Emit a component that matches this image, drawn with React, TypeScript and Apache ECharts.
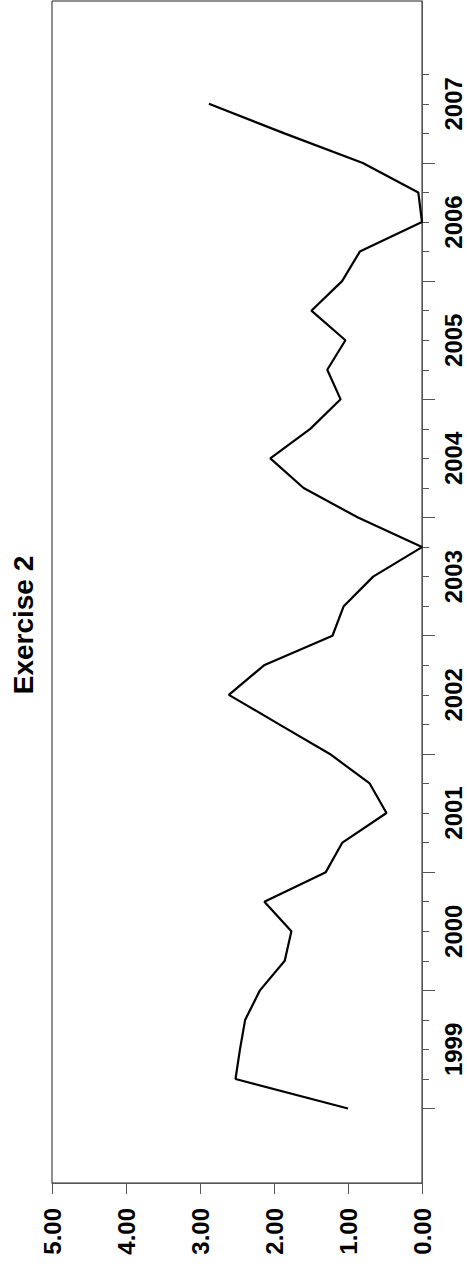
import React, { useEffect, useRef } from "react";
import * as echarts from "echarts";

const titleText = "Exercise 2";
const periods = [
  1999.0, 1999.25, 1999.5, 1999.75,
  2000.0, 2000.25, 2000.5, 2000.75,
  2001.0, 2001.25, 2001.5, 2001.75,
  2002.0, 2002.25, 2002.5, 2002.75,
  2003.0, 2003.25, 2003.5, 2003.75,
  2004.0, 2004.25, 2004.5, 2004.75,
  2005.0, 2005.25, 2005.5, 2005.75,
  2006.0, 2006.25, 2006.5, 2006.75,
  2007.0, 2007.25, 2007.5,
];
const values = [
  1.0, 2.52, 2.46, 2.39,
  2.19, 1.855, 1.765, 2.13,
  1.3, 1.076, 0.48, 0.707,
  1.245, 1.93, 2.61, 2.135,
  1.21, 1.058, 0.66, 0.0,
  0.865, 1.6, 2.05, 1.51,
  1.1, 1.28, 1.035, 1.495,
  1.08, 0.84, 0.0, 0.05,
  0.8, 1.86, 2.88,
];
const yearTicks = [1999, 2000, 2001, 2002, 2003, 2004, 2005, 2006, 2007];
const quarterTicks = [
  1999.0, 1999.25, 1999.5, 1999.75, 2000.0, 2000.25, 2000.5, 2000.75,
  2001.0, 2001.25, 2001.5, 2001.75, 2002.0, 2002.25, 2002.5, 2002.75,
  2003.0, 2003.25, 2003.5, 2003.75, 2004.0, 2004.25, 2004.5, 2004.75,
  2005.0, 2005.25, 2005.5, 2005.75, 2006.0, 2006.25, 2006.5, 2006.75,
  2007.0, 2007.25, 2007.5, 2007.75,
];
const yearLabelPositions = [1999.5, 2000.5, 2001.5, 2002.5, 2003.5, 2004.5, 2005.5, 2006.5, 2007.5];
const timeMin = 1998.37;
const timeMax = 2008.37;

const FONT = "'Liberation Sans', Arial, Helvetica, sans-serif";

export default function App() {
  const ref = useRef<HTMLDivElement>(null);
  useEffect(() => {
    document.body.style.margin = "0";
    if (!ref.current) return;
    const chart = echarts.init(ref.current, undefined, { renderer: "svg" });
    const points = periods.map((p, i) => [values[i], p]);
    chart.setOption({
      animation: false,
      backgroundColor: "#ffffff",
      textStyle: { fontFamily: FONT },
      grid: {
        left: 52,
        top: 1,
        width: 370,
        height: 1182,
        show: true,
        borderColor: "#222",
        borderWidth: 1,
        backgroundColor: "transparent",
      },
      xAxis: {
        type: "value",
        min: 0,
        max: 5,
        interval: 1,
        inverse: true,
        position: "bottom",
        axisLine: { show: true, lineStyle: { color: "#555", width: 1 } },
        axisTick: { show: true, length: 11, lineStyle: { color: "#555", width: 1 } },
        splitLine: { show: false },
        axisLabel: {
          rotate: 90,
          margin: 25,
          fontSize: 24,
          fontWeight: "bold",
          color: "#000",
          fontFamily: FONT,
          formatter: (v: number) => v.toFixed(2),
        },
      },
      yAxis: [
        {
          type: "value",
          min: timeMin,
          max: timeMax,
          position: "right",
          axisLine: { show: true, lineStyle: { color: "#555", width: 1 } },
          axisTick: {
            show: true,
            length: 7,
            customValues: quarterTicks,
            lineStyle: { color: "#555", width: 1 },
          },
          splitLine: { show: false },
          axisLabel: {
            show: true,
            rotate: 90,
            margin: 19,
            fontSize: 24,
            fontWeight: "bold",
            color: "#000",
            fontFamily: FONT,
            customValues: yearLabelPositions,
            formatter: (v: number) => String(Math.floor(v)),
          },
        },
        {
          type: "value",
          min: timeMin,
          max: timeMax,
          position: "right",
          axisLine: { show: false },
          axisTick: {
            show: true,
            length: 13,
            customValues: yearTicks,
            lineStyle: { color: "#555", width: 1 },
          },
          splitLine: { show: false },
          axisLabel: { show: false },
        },
      ],
      graphic: [
        {
          type: "text",
          x: 23,
          y: 625,
          rotation: Math.PI / 2,
          style: {
            text: titleText,
            fontSize: 28,
            fontWeight: "bold",
            fontFamily: FONT,
            fill: "#000",
            textAlign: "center",
            textVerticalAlign: "middle",
          },
        },
      ],
      series: [
        {
          type: "line",
          xAxisIndex: 0,
          yAxisIndex: 0,
          data: points,
          showSymbol: false,
          symbol: "none",
          lineStyle: { color: "#000", width: 2.2 },
        },
      ],
    });
    return () => chart.dispose();
  }, []);
  return <div ref={ref} style={{ width: 467, height: 1272 }} />;
}
